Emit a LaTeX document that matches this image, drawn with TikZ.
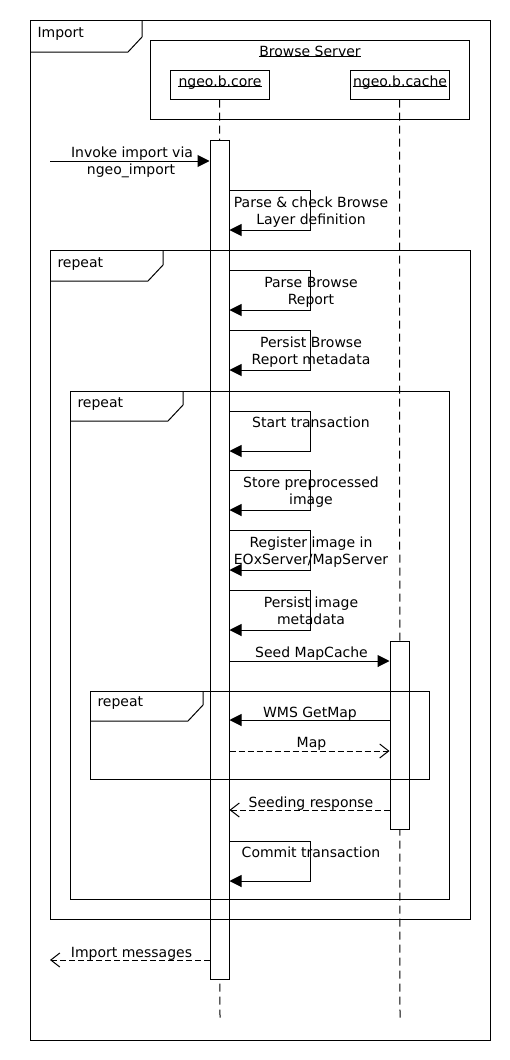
\documentclass[tikz,border=0pt]{standalone}
\usepackage{fontspec}
\setmainfont{DejaVu Sans}
\usetikzlibrary{arrows.meta}
\begin{document}
\begin{tikzpicture}[x=1pt,y=-1pt,line width=1pt,
  lbl/.style={font=\fontsize{14}{17}\selectfont, inner sep=0pt, anchor=base},
  lblw/.style={lbl, anchor=base west},
  box/.style={draw, fill=white, inner sep=0pt, minimum height=29pt, minimum width=99pt},
  bar/.style={draw, fill=white, inner sep=0pt, minimum width=19pt},
  lifeline/.style={dash pattern=on 8pt off 5pt},
  call/.style={-{Triangle[length=12pt,width=12pt]}},
  reply/.style={dash pattern=on 6pt off 3pt, -{Straight Barb[length=9pt,width=14pt,line width=1pt]}},
  uline/.style={line width=0.8pt, shift={(0,2)}}
]
\useasboundingbox (0,0) rectangle (510,1060);

% lifeline heads
\draw (150,40) rectangle (469,119);
\node[lbl] (bs) at (310,56) {Browse Server};
\draw[uline] (bs.base west) -- (bs.base east);
\node[box] (core) at (219.5,84.5) {};
\node[box] (cache) at (399.5,84.5) {};
\node[lbl] (coret) at (220,86) {ngeo.b.core};
\node[lbl] (cachet) at (400,86) {ngeo.b.cache};
\draw[uline] (coret.base west) -- (coret.base east);
\draw[uline] (cachet.base west) -- (cachet.base east);

% lifelines
\coordinate (coreend) at (220,1020);
\coordinate (cacheend) at (400,1020);
\draw[lifeline] (core.south) -- (coreend);
\draw[lifeline] (cache.south) -- (cacheend);

% activation bars
\node[bar, minimum height=839pt, anchor=north] (cb) at (219.5,140) {};
\node[bar, minimum height=188pt, anchor=north] (kb) at (399.5,641) {};

% frames
\draw (30,20) rectangle (490,1040);
\draw (30,52) -- (128,52) -- (142,37) -- (142,20);
\node[lblw] (imp) at (37,37) {Import};

\draw (50,250) rectangle (470,919);
\draw (50,281) -- (148,281) -- (163,265) -- (163,250);
\node[lblw] (r1) at (57,267) {repeat};

\draw (70,391) rectangle (449,899);
\draw (70,421) -- (168,421) -- (183,405) -- (183,391);
\node[lblw] (r2) at (77,407) {repeat};

\draw (90,691) rectangle (429,779);
\draw (90,721) -- (188,721) -- (203,705) -- (203,691);
\node[lblw] (r3) at (97,706) {repeat};

% invoke
\coordinate (src) at (50,161);
\draw[call] (src) -- (cb.west |- src);
\node[lbl] (m1a) at (132,157) {Invoke import via};
\node[lbl] (m1b) at (131,174) {ngeo\_import};

% self calls
\foreach \t [count=\i] in {190,270,330,411,470,530,590,841}{
  \coordinate (sc\i) at (cb.east |- 0,\t);
  \draw[call] (sc\i) -- ++(81,0) -- ++(0,40) -- ++(-81,0);
}
\node[lbl] (s1a) at (311,207) {Parse \& check Browse};
\node[lbl] (s1b) at (311,224) {Layer definition};
\node[lbl] (s2a) at (311,287) {Parse Browse};
\node[lbl] (s2b) at (311,304) {Report};
\node[lbl] (s3a) at (311,347) {Persist Browse};
\node[lbl] (s3b) at (311,364) {Report metadata};
\node[lbl] (s4a) at (311,427) {Start transaction};
\node[lbl] (s5a) at (311,487) {Store preprocessed};
\node[lbl] (s5b) at (311,504) {image};
\node[lbl] (s6a) at (311,547) {Register image in};
\node[lbl] (s6b) at (311,564) {EOxServer/MapServer};
\node[lbl] (s7a) at (311,607) {Persist image};
\node[lbl] (s7b) at (311,624) {metadata};
\node[lbl] (s8a) at (311,857) {Commit transaction};

% cache messages
\coordinate (y1) at (0,661);
\coordinate (y2) at (0,720);
\coordinate (y3) at (0,751);
\coordinate (y4) at (0,810);
\draw[call] (cb.east |- y1) -- (kb.west |- y1);
\node[lbl] (seed) at (311.5,657) {Seed MapCache};
\draw[call] (kb.west |- y2) -- (cb.east |- y2);
\node[lbl] (wms) at (310,717) {WMS GetMap};
\draw[reply] (cb.east |- y3) -- (kb.west |- y3);
\node[lbl] (map) at (311.5,747) {Map};
\draw[reply] (kb.west |- y4) -- (cb.east |- y4);
\node[lbl] (seedr) at (311,807) {Seeding response};

% import messages
\coordinate (dst) at (50,960);
\draw[reply] (cb.west |- dst) -- (dst);
\node[lbl] (im) at (131.5,957) {Import messages};
\end{tikzpicture}
\end{document}
